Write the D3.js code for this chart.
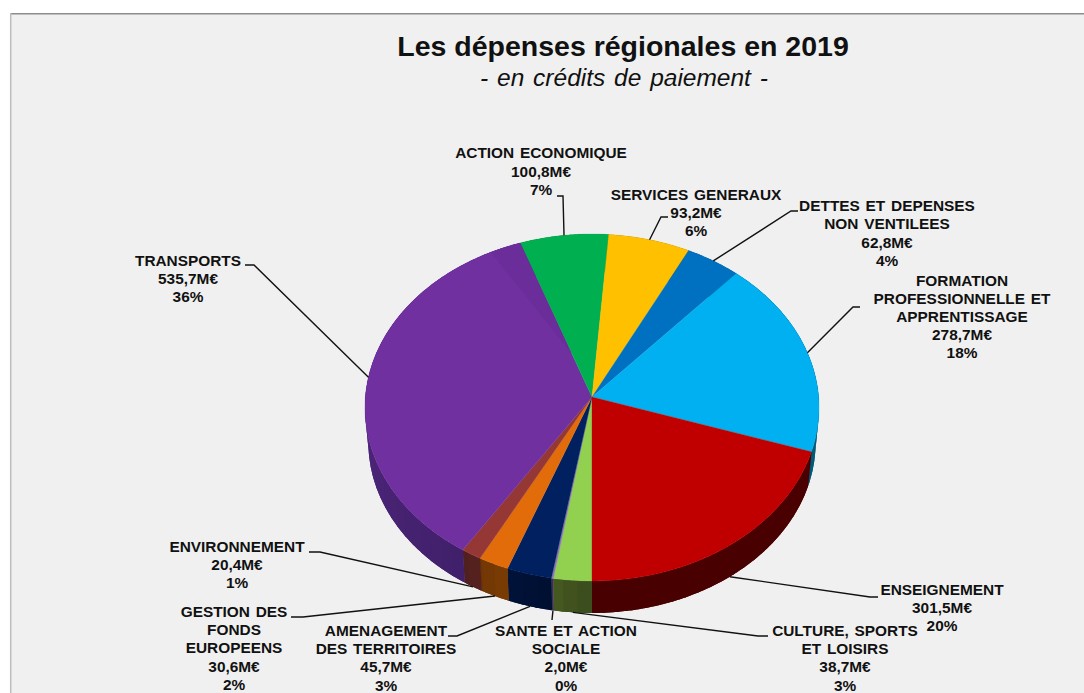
<!DOCTYPE html>
<html>
<head>
<meta charset="utf-8">
<script src="https://cdn.jsdelivr.net/npm/d3@7"></script>
<style>
  html, body { margin: 0; padding: 0; background: #fff; overflow: hidden; }
  text { font-family: "Liberation Sans", Arial, sans-serif; fill: #111; }
  .lbl { font-size: 15.4px; font-weight: bold; text-anchor: middle; word-spacing: 1.5px; }
</style>
</head>
<body>
<script>
// data, clockwise from 6 o'clock
const categories = [
  ["CULTURE, SPORTS", "ET LOISIRS"],
  ["SANTE ET ACTION", "SOCIALE"],
  ["AMENAGEMENT", "DES TERRITOIRES"],
  ["GESTION DES", "FONDS", "EUROPEENS"],
  ["ENVIRONNEMENT"],
  ["TRANSPORTS"],
  ["ACTION ECONOMIQUE"],
  ["SERVICES GENERAUX"],
  ["DETTES ET DEPENSES", "NON VENTILEES"],
  ["FORMATION", "PROFESSIONNELLE ET", "APPRENTISSAGE"],
  ["ENSEIGNEMENT"]
];
const amounts = [38.7, 2.0, 45.7, 30.6, 20.4, 535.7, 100.8, 93.2, 62.8, 278.7, 301.5];
const percents = [3, 0, 3, 2, 1, 36, 7, 6, 4, 18, 20];

const topColors = ["#92d050", "#8a78b8", "#002060", "#e36c0a", "#953735", "#7030a0",
                   "#00b050", "#ffc000", "#0070c0", "#00b0f0", "#c00000"];
// wall shade at start and end of each slice
const wallColors = [
  ["#3a4a1e", "#46591f"], ["#3c3050", "#3c3050"], ["#001030", "#00133a"],
  ["#7a3c04", "#703604"], ["#58211f", "#50201f"], ["#41206a", "#5f2d90"],
  ["#005830", "#005830"], ["#806000", "#806000"], ["#003860", "#003860"],
  ["#00607f", "#005a78"], ["#4a0000", "#480000"]
];

// label block: centre x, first line y, line step, then leader line (from label, elbow)
const labelLayout = [
  {x: 845, y: 636, step: 18.2, from: [768, 636], elbow: [758, 636], wall: true},
  {x: 566, y: 636, step: 18.2, from: [552, 620], elbow: [552, 620], wall: true},
  {x: 386, y: 636, step: 18.2, from: [448, 636], elbow: [457, 636], wall: true},
  {x: 234, y: 617, step: 18.2, from: [291, 617], elbow: [303, 617], wall: true},
  {x: 237, y: 552, step: 18.2, from: [309, 552], elbow: [320, 552], wall: true},
  {x: 188, y: 266, step: 18.2, from: [245, 265], elbow: [254, 265]},
  {x: 541, y: 158, step: 18.5, from: [557, 196], elbow: [563, 196]},
  {x: 696, y: 200, step: 18, from: [668, 217], elbow: [661, 217]},
  {x: 887, y: 211, step: 18.3, from: [798, 211], elbow: [791, 211]},
  {x: 962, y: 286, step: 18, from: [860, 307], elbow: [853, 307]},
  {x: 942, y: 595, step: 18.2, from: [878, 597], elbow: [870, 597], wall: true}
];

const width = 1084;
const height = 693;
const cx = 592, cy = 397;
const rx = 226.6, ry = 172.8;
const persp = 0.0605;   // perspective of the tilted disc
const depth = 34.8;     // height of the wall
const wallScale = 0.985;

// angle (0 = up, clockwise) and radius fraction to screen
function project(a, r, low) {
  let u = Math.sin(a) * (r === undefined ? 1 : r);
  let v = -Math.cos(a) * (r === undefined ? 1 : r);
  let w = 1 - persp * v;
  let s = low ? wallScale : 1;
  return [cx + rx * s * u / w, cy + ry * s * v / w + (low ? depth : 0)];
}

function sampleArc(a0, a1, low) {
  let n = Math.max(2, Math.ceil(Math.abs(a1 - a0) / 0.01));
  return d3.range(n + 1).map(i => project(a0 + (a1 - a0) * i / n, 1, low));
}

const pie = d3.pie().sort(null).startAngle(Math.PI).endAngle(3 * Math.PI);
const arcs = pie(amounts);
const line = d3.line();

let svg = d3.select("body").append("svg")
  .attr("width", width)
  .attr("height", height)
  .style("display", "block");

// panel
svg.append("rect").attr("x", 10).attr("y", 13).attr("width", width - 10).attr("height", height - 13)
  .attr("fill", "#f0f0f0");
svg.append("line").attr("x1", 10).attr("x2", width).attr("y1", 13.7).attr("y2", 13.7)
  .attr("stroke", "#8c8c8c").attr("stroke-width", 1.5);
svg.append("line").attr("x1", 10.7).attr("x2", 10.7).attr("y1", 13).attr("y2", height)
  .attr("stroke", "#bdbdbd").attr("stroke-width", 1.5);

svg.append("text").attr("x", 623).attr("y", 56)
  .attr("text-anchor", "middle").style("font-size", "28.5px").style("font-weight", "bold")
  .text("Les dépenses régionales en 2019");
svg.append("text").attr("x", 624).attr("y", 86)
  .attr("text-anchor", "middle").style("font-size", "24.5px").style("font-style", "italic")
  .style("word-spacing", "2px")
  .text("- en crédits de paiement -");

// walls: whole slice first, then bands on top so the shade moves along the rim
let walls = svg.append("g");
arcs.forEach((d, i) => {
  let shade = d3.scaleLinear().domain([d.startAngle, d.endAngle])
    .range(wallColors[i]).interpolate(d3.interpolateRgb);
  walls.append("path")
    .attr("d", line(sampleArc(d.startAngle, d.endAngle, false).concat(sampleArc(d.endAngle, d.startAngle, true))) + "Z")
    .attr("fill", wallColors[i][0]);
  if (wallColors[i][0] === wallColors[i][1]) return;
  let step = 0.06;
  for (let a = d.startAngle; a < d.endAngle; a += step) {
    let b = Math.min(a + step + 0.012, d.endAngle);
    let pts = sampleArc(a, b, false).concat(sampleArc(b, a, true));
    walls.append("path").attr("d", line(pts) + "Z")
      .attr("fill", shade(a + step / 2));
  }
});

// top of the disc
svg.append("g").selectAll("path")
  .data(arcs)
  .enter()
  .append("path")
  .attr("d", d => line([[cx, cy]].concat(sampleArc(d.startAngle, d.endAngle, false))) + "Z")
  .attr("fill", (d, i) => topColors[i])
  .attr("stroke", (d, i) => topColors[i])
  .attr("stroke-width", 0.3);

// darker reflection in the purple slice, next to the green one
let greenStart = arcs[6].startAngle;
let wedgeStart = greenStart - 8.5 * Math.PI / 180;
svg.append("path")
  .attr("d", line([project(greenStart, 0.27)].concat(sampleArc(wedgeStart, greenStart, false))) + "Z")
  .attr("fill", "#6b2d9a");

// leaders end on the rim at mid angle, or under the wall for the front slices
svg.append("g").selectAll("path")
  .data(arcs)
  .enter()
  .append("path")
  .attr("d", (d, i) => {
    let l = labelLayout[i];
    let mid = (d.startAngle + d.endAngle) / 2;
    return line([l.from, l.elbow, project(mid, 1, l.wall)]);
  })
  .attr("fill", "none")
  .attr("stroke", "#111")
  .attr("stroke-width", 1.4);

// labels
categories.forEach((cat, i) => {
  let l = labelLayout[i];
  let lines = cat.concat([d3.format(".1f")(amounts[i]).replace(".", ",") + "M€", percents[i] + "%"]);
  let t = svg.append("text").attr("class", "lbl");
  lines.forEach((s, k) => {
    t.append("tspan").attr("x", l.x).attr("y", l.y + k * l.step).text(s);
  });
});
</script>
</body>
</html>
